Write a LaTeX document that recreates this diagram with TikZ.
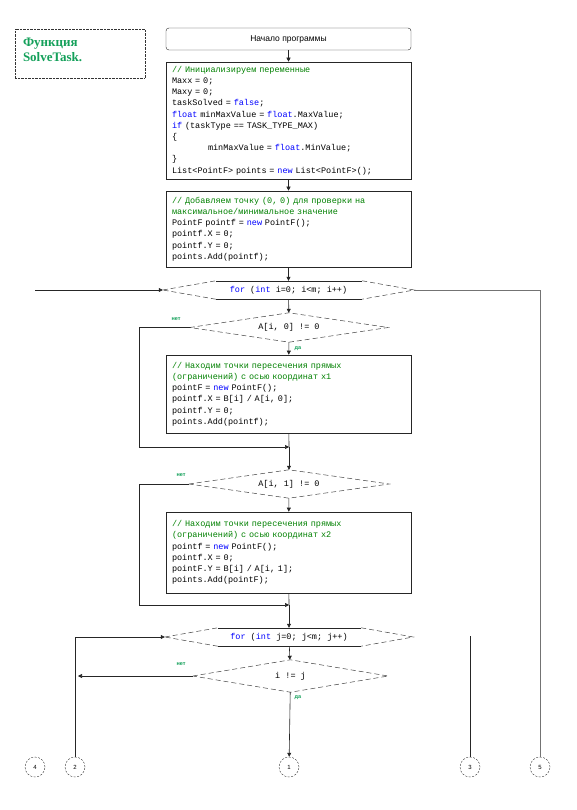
\documentclass[tikz,border=0pt]{standalone}
\usepackage{fontspec}
\setmainfont{Liberation Sans}
\newfontfamily\codefont{Liberation Mono}
\newfontfamily\titlefont{Liberation Serif}
\usetikzlibrary{arrows.meta}
\definecolor{cmtgreen}{RGB}{0,128,0}
\definecolor{kwblue}{RGB}{0,0,255}
\definecolor{lblgreen}{RGB}{20,160,90}
\newcommand\kw[1]{\textcolor{kwblue}{#1}}
\newcommand\cm[1]{\textcolor{cmtgreen}{#1}}
\tikzset{
  edge/.style={draw=black!85, line width=0.6pt},
  arr/.style={edge, -{Triangle[length=4pt,width=4pt]}},
  dashline/.style={draw=black!75, line width=0.5pt, dash pattern=on 5pt off 3pt},
  codefnt/.style={font={\codefont\fontsize{8.5}{11.2}\selectfont}},
  codebox/.style={draw=black!85, line width=0.6pt, codefnt, minimum width=245pt,
    text width=233pt, align=left, inner sep=0pt},
  startbox/.style={draw=black!85, rounded corners=3pt, minimum width=245pt,
    minimum height=22pt, font=\fontsize{8.5}{10}\selectfont},
  titlebox/.style={draw=black!80, densely dotted, minimum width=130pt, minimum height=49pt},
  titletext/.style={text=lblgreen, align=left, inner sep=0pt,
    font={\titlefont\bfseries\fontsize{13}{15}\selectfont}},
  cond/.style={rectangle, codefnt, inner sep=0pt, minimum width=198pt, minimum height=29pt},
  loopbox/.style={rectangle, codefnt, inner sep=0pt, minimum width=251pt, minimum height=18pt},
  conn/.style={circle, draw=black!80, dash pattern=on 2pt off 1.5pt, minimum size=20pt,
    inner sep=0pt, font=\fontsize{6}{6}\selectfont},
  lbl/.style={text=lblgreen, font=\bfseries\fontsize{5.5}{6}\selectfont, inner sep=0pt}
}
% hexagon of a loop, drawn round a loopbox node
\newcommand\hexloop[1]{%
  \draw[dashline] (#1.west) -- ([xshift=53pt]#1.north west)
    ([xshift=-52pt]#1.north east) -- (#1.east) -- ([xshift=-52pt]#1.south east)
    ([xshift=53pt]#1.south west) -- (#1.west);
  \draw[edge] ([xshift=53pt]#1.north west) -- ([xshift=-52pt]#1.north east)
    ([xshift=53pt]#1.south west) -- ([xshift=-52pt]#1.south east);}
% rhombus of a condition, drawn round a cond node
\newcommand\rhomb[1]{%
  \draw[dashline] (#1.west) -- (#1.north) -- (#1.east) -- (#1.south) -- cycle;}
\begin{document}
\begin{tikzpicture}[x=1pt,y=-1pt]
  \useasboundingbox (0,0) rectangle (576,810);
  % Title
  \node[titlebox] (title) at (80,53.5) {};
  \node[titletext, anchor=north west] (titletxt) at ([shift={(8pt,-9pt)}]title.north west)
    {Функция\\SolveTask.};
  % Blocks
  \node[startbox] (start) at (288.5,39) {Начало программы};
  \node[codebox, minimum height=117pt] (init) at (288.5,120.5) {%
    \cm{// Инициализируем переменные}\\
    Maxx = 0;\\
    Maxy = 0;\\
    taskSolved = \kw{false};\\
    \kw{float} minMaxValue = \kw{float}.MaxValue;\\
    \kw{if} (taskType == TASK\_TYPE\_MAX)\\
    \{\\
    \hspace*{36pt}minMaxValue = \kw{float}.MinValue;\\
    \}\\
    List<PointF> points = \kw{new} List<PointF>();};
  \node[codebox, minimum height=76pt] (zero) at (288.5,229) {%
    \cm{// Добавляем точку (0, 0) для проверки на}\\
    \cm{максимальное/минимальное значение}\\
    PointF pointf = \kw{new} PointF();\\
    pointf.X = 0;\\
    pointf.Y = 0;\\
    points.Add(pointf);};
  \node[loopbox] (loopi) at (288.5,290) {\kw{for} (\kw{int} i=0; i<m; i++)};
  \hexloop{loopi}
  \node[cond] (ifx) at (289,327.5) {A[i, 0] != 0};
  \rhomb{ifx}
  \node[codebox, minimum height=78pt] (boxx) at (288.5,394) {%
    \cm{// Находим точки пересечения прямых}\\
    \cm{(ограничений) с осью координат x1}\\
    pointF = \kw{new} PointF();\\
    pointf.X = B[i] / A[i, 0];\\
    pointf.Y = 0;\\
    points.Add(pointf);};
  \node[cond, minimum width=200pt, minimum height=28pt] (ify) at (289,484) {A[i, 1] != 0};
  \rhomb{ify}
  \node[codebox, minimum height=81pt] (boxy) at (288.5,552.5) {%
    \cm{// Находим точки пересечения прямых}\\
    \cm{(ограничений) с осью координат x2}\\
    pointf = \kw{new} PointF();\\
    pointf.X = 0;\\
    pointF.Y = B[i] / A[i, 1];\\
    points.Add(pointF);};
  \node[loopbox, minimum width=248pt] (loopj) at (289,637) {\kw{for} (\kw{int} j=0; j<m; j++)};
  \hexloop{loopj}
  \node[cond, minimum width=195pt, minimum height=32pt] (ifij) at (290.5,676) {i != j};
  \rhomb{ifij}
  % Connectors on page
  \node[conn] (c4) at (35,767) {4};
  \node[conn] (c2) at (75,767) {2};
  \node[conn] (c1) at (289,767) {1};
  \node[conn] (c3) at (470,767) {3};
  \node[conn] (c5) at (540,767) {5};
  % Free ends and joins
  \coordinate (inI) at (35,290);
  \coordinate (lx) at (139,327.5);
  \coordinate (jx) at (289,447);
  \coordinate (ly) at (139,484);
  \coordinate (jy) at (289,605);
  \coordinate (top3) at (470,636);
  % Flow
  \draw[arr] (start) -- (init);
  \draw[arr] (init) -- (zero);
  \draw[arr] (zero) -- (loopi);
  \draw[arr] (inI) -- (loopi.west);
  \draw[edge, draw=black!55] (loopi.east) -| (c5);
  \draw[arr] (loopi) -- (ifx);
  \draw[arr] (ifx) -- (boxx);
  \draw[edge] (ifx.west) -- (lx);
  \draw[arr] (lx) |- (jx);
  \draw[edge] (boxx) -- (jx);
  \draw[arr] (jx) -- (ify);
  \draw[arr] (ify) -- (boxy);
  \draw[edge] (ify.west) -- (ly);
  \draw[arr] (ly) |- (jy);
  \draw[edge] (boxy) -- (jy);
  \draw[arr] (jy) -- (loopj);
  \draw[arr] (c2) |- (loopj.west);
  \draw[arr] (loopj) -- (ifij);
  \draw[arr] (ifij.west) -- ([xshift=3pt]ifij.west -| c2);
  \draw[arr] (ifij) -- (c1);
  \draw[edge] (top3) -- (c3);
  % Branch labels
  \node[lbl] at (176,319) {нет};
  \node[lbl] at (298,349) {да};
  \node[lbl] at (181,475) {нет};
  \node[lbl] at (181,664) {нет};
  \node[lbl] at (298,698) {да};
\end{tikzpicture}
\end{document}
